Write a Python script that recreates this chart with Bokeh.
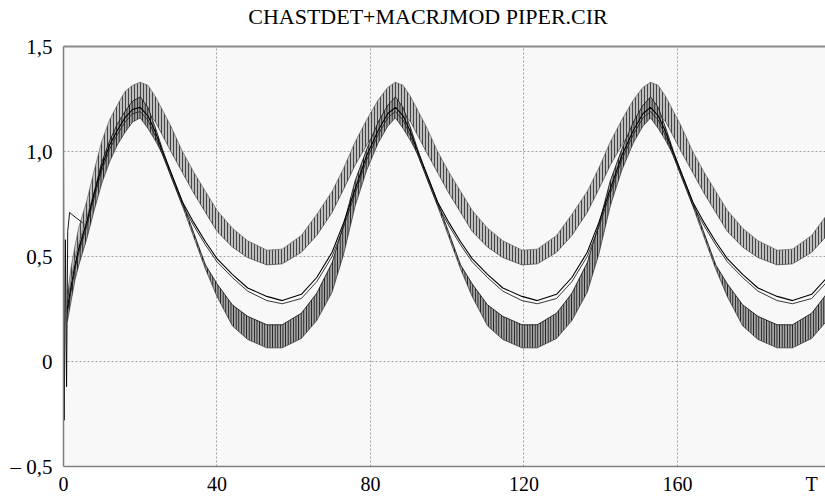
from bokeh.plotting import figure
from bokeh.models import Range1d, FixedTicker, LinearAxis, ColumnDataSource
from bokeh.embed import file_html
from bokeh.resources import INLINE

TITLE = "CHASTDET+MACRJMOD PIPER.CIR"
X_TICKS = [0, 40, 80, 120, 160, 195]
X_LABELS = {0: "0", 40: "40", 80: "80", 120: "120", 160: "160", 195: "T"}
Y_TICKS = [-0.5, 0, 0.5, 1.0, 1.5]
Y_LABELS = {-0.5: "\u2013 0,5", 0: "0", 0.5: "0,5", 1: "1,0", 1.5: "1,5"}

t = [1, 2, 3, 4, 5, 6, 8, 10, 12, 14, 16, 18,
     20, 22, 24, 26, 28, 31, 34, 37, 40, 44, 48, 53, 57, 62, 66, 70, 73, 76, 79, 82, 84.5,
     86.5, 88.5, 90.5, 92.5, 94.5, 97.5, 100.5, 103.5, 106.5, 110.5, 114.5, 119.5, 123.5, 128.5,
     132.5, 136.5, 139.5, 142.5, 145.5, 148.5, 151,
     153, 155, 157, 159, 161, 164, 167, 170, 173, 177, 181, 186, 190, 195, 199]

a_hi = [0.32, 0.45, 0.55, 0.64, 0.70, 0.76, 0.91, 1.05, 1.15, 1.22, 1.285, 1.315,
        1.33, 1.315, 1.26, 1.19, 1.12, 1.00, 0.90, 0.81, 0.72, 0.635, 0.575, 0.53, 0.535, 0.60, 0.70,
        0.81, 0.92, 1.045, 1.15, 1.245, 1.305,
        1.33, 1.315, 1.26, 1.19, 1.12, 1.00, 0.90, 0.81, 0.72, 0.635, 0.575, 0.53, 0.535, 0.60, 0.70,
        0.81, 0.92, 1.045, 1.15, 1.245, 1.305,
        1.33, 1.315, 1.26, 1.19, 1.12, 1.00, 0.90, 0.81, 0.72, 0.635, 0.575, 0.53, 0.535, 0.60, 0.70]
a_lo = [0.28, 0.39, 0.49, 0.56, 0.62, 0.68, 0.81, 0.95, 1.03, 1.10, 1.155, 1.185,
        1.20, 1.185, 1.14, 1.07, 1.00, 0.90, 0.80, 0.71, 0.62, 0.545, 0.495, 0.46, 0.465, 0.52, 0.60,
        0.71, 0.82, 0.935, 1.03, 1.115, 1.175,
        1.20, 1.185, 1.14, 1.07, 1.00, 0.90, 0.80, 0.71, 0.62, 0.545, 0.495, 0.46, 0.465, 0.52, 0.60,
        0.71, 0.82, 0.935, 1.03, 1.115, 1.175,
        1.20, 1.185, 1.14, 1.07, 1.00, 0.90, 0.80, 0.71, 0.62, 0.545, 0.495, 0.46, 0.465, 0.52, 0.60]

b_hi = [0.25, 0.36, 0.46, 0.54, 0.60, 0.66, 0.80, 0.93, 1.03, 1.10, 1.16, 1.20,
        1.21, 1.17, 1.09, 0.99, 0.90, 0.76, 0.66, 0.57, 0.49, 0.415, 0.35, 0.31, 0.29, 0.32, 0.40,
        0.52, 0.66, 0.82, 0.98, 1.10, 1.18,
        1.21, 1.17, 1.09, 0.99, 0.90, 0.76, 0.66, 0.57, 0.49, 0.415, 0.35, 0.31, 0.29, 0.32, 0.40,
        0.52, 0.66, 0.82, 0.98, 1.10, 1.18,
        1.21, 1.17, 1.09, 0.99, 0.90, 0.76, 0.66, 0.57, 0.49, 0.415, 0.35, 0.31, 0.29, 0.32, 0.40]
b_lo = [0.23, 0.34, 0.44, 0.52, 0.58, 0.64, 0.78, 0.91, 1.01, 1.08, 1.14, 1.18,
        1.19, 1.15, 1.07, 0.975, 0.885, 0.745, 0.645, 0.555, 0.475, 0.40, 0.335, 0.29, 0.275, 0.30, 0.38,
        0.50, 0.64, 0.80, 0.96, 1.08, 1.16,
        1.19, 1.15, 1.07, 0.975, 0.885, 0.745, 0.645, 0.555, 0.475, 0.40, 0.335, 0.29, 0.275, 0.30, 0.38,
        0.50, 0.64, 0.80, 0.96, 1.08, 1.16,
        1.19, 1.15, 1.07, 0.975, 0.885, 0.745, 0.645, 0.555, 0.475, 0.40, 0.335, 0.29, 0.275, 0.30, 0.38]

c_hi = [0.25, 0.35, 0.45, 0.54, 0.60, 0.66, 0.80, 0.95, 1.05, 1.13, 1.19, 1.24,
        1.26, 1.21, 1.11, 1.00, 0.90, 0.76, 0.61, 0.46, 0.37, 0.27, 0.215, 0.175, 0.175, 0.23, 0.325,
        0.47, 0.65, 0.86, 1.01, 1.14, 1.22,
        1.26, 1.21, 1.11, 1.00, 0.90, 0.76, 0.61, 0.46, 0.37, 0.27, 0.215, 0.175, 0.175, 0.23, 0.325,
        0.47, 0.65, 0.86, 1.01, 1.14, 1.22,
        1.26, 1.21, 1.11, 1.00, 0.90, 0.76, 0.61, 0.46, 0.37, 0.27, 0.215, 0.175, 0.175, 0.23, 0.325]
c_lo = [0.19, 0.29, 0.39, 0.46, 0.52, 0.58, 0.72, 0.85, 0.95, 1.03, 1.09, 1.14,
        1.16, 1.11, 1.05, 0.98, 0.88, 0.74, 0.59, 0.44, 0.31, 0.17, 0.105, 0.065, 0.065, 0.11, 0.195,
        0.33, 0.51, 0.74, 0.91, 1.04, 1.12,
        1.16, 1.11, 1.05, 0.98, 0.88, 0.74, 0.59, 0.44, 0.31, 0.17, 0.105, 0.065, 0.065, 0.11, 0.195,
        0.33, 0.51, 0.74, 0.91, 1.04, 1.12,
        1.16, 1.11, 1.05, 0.98, 0.88, 0.74, 0.59, 0.44, 0.31, 0.17, 0.105, 0.065, 0.065, 0.11, 0.195]

t_start = [0, 0.2, 0.5, 0.8, 1.1, 1.6, 2.2, 5.0]
y_start = [1.0, -0.28, 0.58, -0.12, 0.62, 0.71, 0.70, 0.66]

SERIF = "Liberation Serif"

src = ColumnDataSource(dict(t=t, a_hi=a_hi, a_lo=a_lo, b_hi=b_hi, b_lo=b_lo, c_hi=c_hi, c_lo=c_lo))

p = figure(width=825, height=499, frame_width=762, frame_height=420,
           x_range=Range1d(0, 198.6), y_range=Range1d(-0.5, 1.5),
           output_backend="svg", toolbar_location=None,
           min_border_left=63, min_border_right=0, min_border_top=46, min_border_bottom=33)
p.background_fill_color = "#f8f8f8"
p.border_fill_color = "white"
p.outline_line_color = None

p.xaxis.major_label_text_font_size = "20px"
p.yaxis.major_label_text_font_size = "21px"
for ax in (p.xaxis[0], p.yaxis[0]):
    ax.axis_line_color = "#808080"
    ax.axis_line_width = 1.5
    ax.major_tick_line_color = None
    ax.minor_tick_line_color = None
    ax.major_label_text_font = SERIF
    ax.major_label_text_color = "black"
p.xaxis.ticker = FixedTicker(ticks=X_TICKS)
p.yaxis.ticker = FixedTicker(ticks=Y_TICKS)
p.xaxis.major_label_overrides = X_LABELS
p.yaxis.major_label_overrides = Y_LABELS
p.xaxis.major_label_standoff = 0
p.yaxis.major_label_standoff = 5

# top frame line carrying the chart title as its label
top = LinearAxis(ticker=FixedTicker(ticks=[]), axis_line_color="#8a8a8a", axis_line_width=2,
                 major_tick_line_color=None, minor_tick_line_color=None,
                 major_label_text_font_size="0px", major_label_standoff=0,
                 axis_label=TITLE + "\u00a0" * 6, axis_label_standoff=18,
                 axis_label_text_font=SERIF, axis_label_text_font_size="22px",
                 axis_label_text_font_style="normal", axis_label_text_color="black")
p.add_layout(top, "above")

p.xgrid.grid_line_color = "#a0a0a0"
p.ygrid.grid_line_color = "#a0a0a0"
p.xgrid.grid_line_dash = "2 2"
p.ygrid.grid_line_dash = "2 2"
p.xgrid.ticker = FixedTicker(ticks=[40, 80, 120, 160])
p.ygrid.ticker = FixedTicker(ticks=[0, 0.5, 1.0])

p.varea(x="t", y1="a_lo", y2="a_hi", source=src, fill_color="#b8b8b8", fill_alpha=0.9,
        hatch_pattern="|", hatch_color="#444444", hatch_scale=3, hatch_weight=1)
p.line(x="t", y="a_hi", source=src, line_color="#666666", line_width=0.7)
p.line(x="t", y="a_lo", source=src, line_color="#444444", line_width=0.7)

p.varea(x="t", y1="c_lo", y2="c_hi", source=src, fill_color="#9a9a9a", fill_alpha=0.9,
        hatch_pattern="|", hatch_color="#111111", hatch_scale=2.6, hatch_weight=1)
p.line(x="t", y="c_hi", source=src, line_color="#111111", line_width=0.8)
p.line(x="t", y="c_lo", source=src, line_color="#333333", line_width=0.7)

p.line(x="t", y="b_hi", source=src, line_color="black", line_width=1.1)
p.line(x="t", y="b_lo", source=src, line_color="#222222", line_width=0.9)

p.line(x=t_start, y=y_start, line_color="black", line_width=0.9)

open("out.html", "w").write(file_html(p, INLINE))
